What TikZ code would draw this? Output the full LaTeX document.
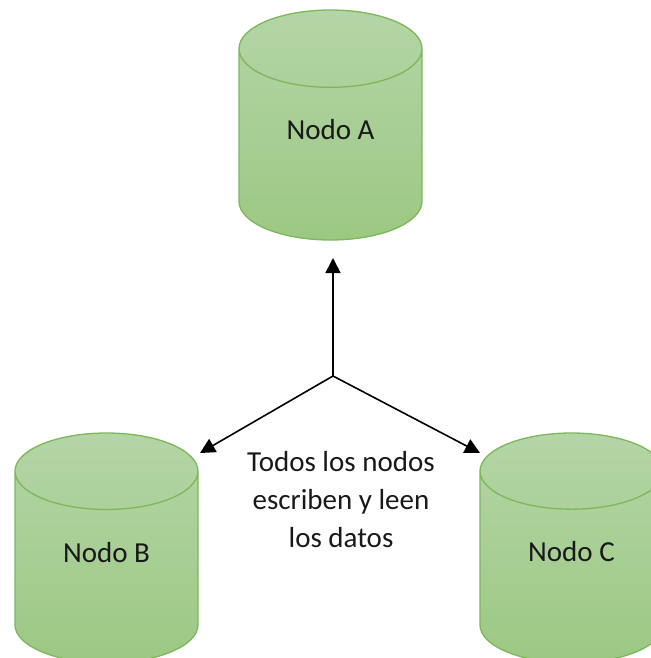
\documentclass[tikz,border=0pt]{standalone}
\usepackage{fontspec}
\setmainfont{Carlito}
\usetikzlibrary{arrows.meta,shapes.geometric}
\definecolor{cylline}{HTML}{7DB75A}
\definecolor{cyltop}{HTML}{B4D5A6}
\definecolor{cylbot}{HTML}{9CC883}
\tikzset{
  cyl/.style={cylinder, shape border rotate=90, aspect=0.88, draw=cylline, line width=1.3pt,
    minimum width=183pt, minimum height=230pt, inner sep=0pt, anchor=shape center,
    top color=cyltop, bottom color=cylbot, text depth=31pt},
  rotulo/.style={text=black!90, font=\fontsize{29}{38}\selectfont, align=center},
  flecha/.style={-{Triangle[length=15pt,width=15pt]}, line width=1.6pt, black}
}
\begin{document}
\begin{tikzpicture}[x=1pt, y=-1pt]
  \useasboundingbox (0,0) rectangle (650,658);
  \foreach \name/\x/\y/\lab in {nodoA/330.5/125/A, nodoB/106.5/548/B, nodoC/571.5/548/C}
  {
    \node[cyl, rotulo] (\name) at (\x,\y) {Nodo \lab};
  }
  \coordinate (centro) at (333,376);
  \coordinate (puntaA) at (333,258);
  \coordinate (puntaB) at (200,453);
  \coordinate (puntaC) at (480,453);
  \draw[flecha] (centro) -- (puntaA);
  \draw[flecha] (centro) -- (puntaB);
  \draw[flecha] (centro) -- (puntaC);
  \node[rotulo] (nota) at (341,500) {Todos los nodos\\escriben y leen\\los datos};
\end{tikzpicture}
\end{document}
